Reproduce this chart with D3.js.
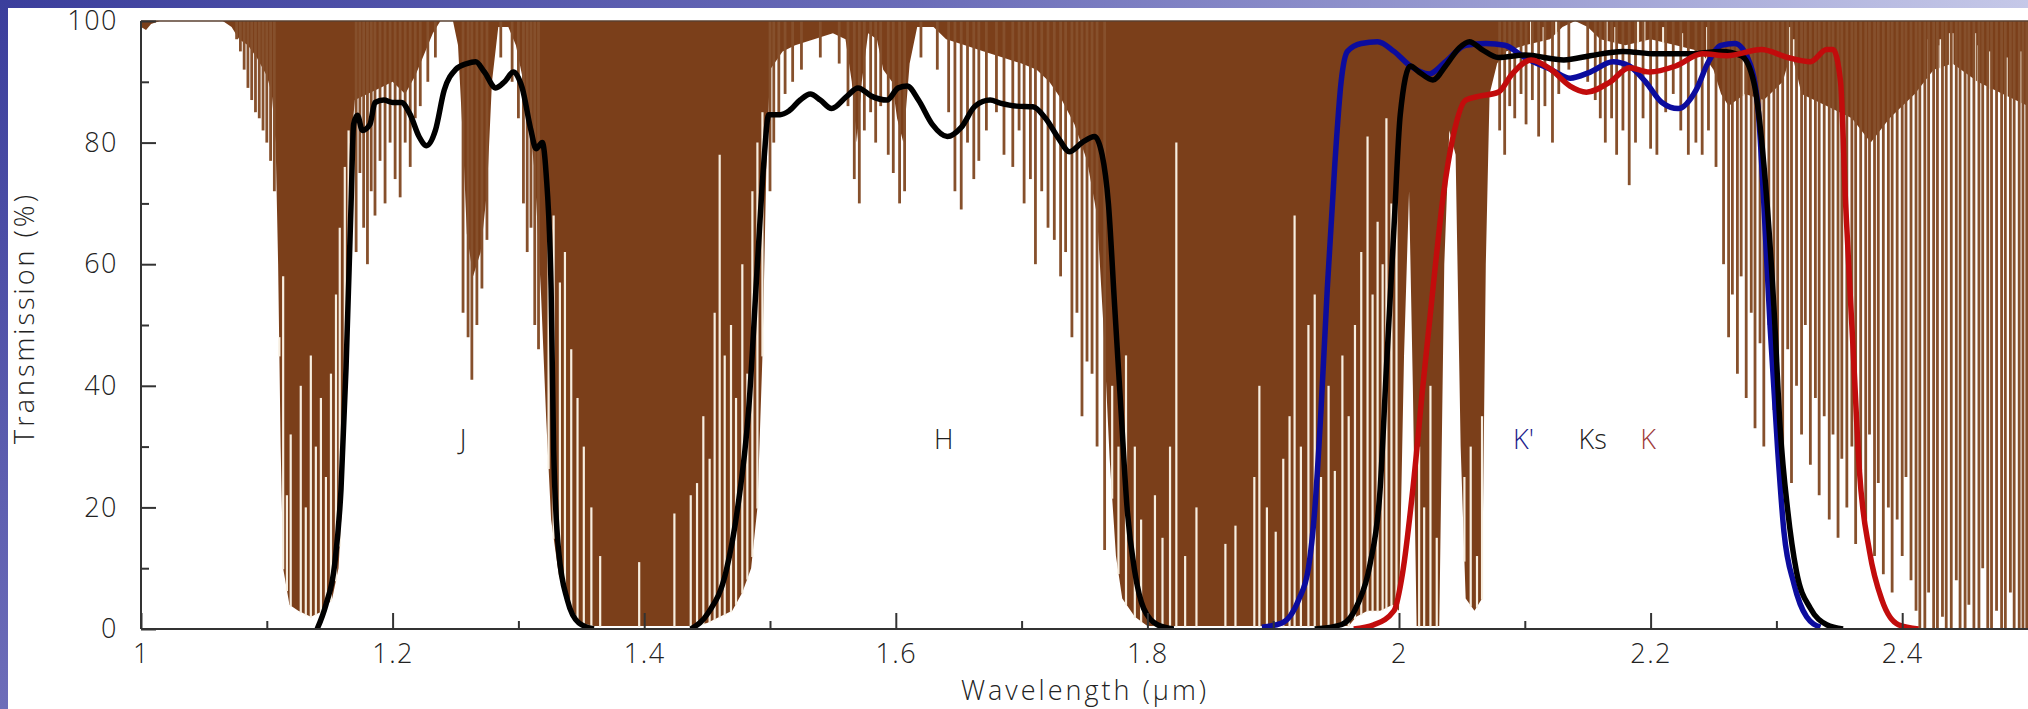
<!DOCTYPE html>
<meta charset="utf-8">
<style>
    body { margin: 0; background: #fff; }
    text {
        font-family: "Open Sans", "DejaVu Sans", sans-serif;
        font-weight: 300;
        fill: #222;
    }
    .axis path, .axis line { stroke: #333; stroke-width: 2; }
</style>

<svg width="2028" height="709"></svg>

<script src="https://d3js.org/d3.v7.min.js"></script>
<script>

    // atmospheric transmission, lower edge of the absorption (brown) mass [micron, %]
    var atmBase = [[1.000,99],[1.004,98.5],[1.008,99.5],[1.015,100],[1.065,100],[1.072,99],[1.078,97],[1.085,96],
        [1.092,94],[1.100,91],[1.104,88],[1.107,80],[1.109,60],[1.111,30],[1.113,10],[1.118,4],[1.125,3],[1.135,2],
        [1.145,3],[1.152,5],[1.157,10],[1.161,25],[1.164,55],[1.167,80],[1.170,87],[1.180,88],[1.190,89],[1.200,90],
        [1.210,88],[1.218,91],[1.226,95],[1.232,98],[1.238,100],[1.248,100],[1.252,96],[1.256,80],[1.259,65],[1.264,58],
        [1.270,62],[1.275,72],[1.279,90],[1.284,99],[1.292,99],[1.298,96],[1.303,91],[1.308,85],[1.313,75],[1.318,55],
        [1.322,35],[1.326,18],[1.332,9],[1.340,4],[1.350,1],[1.360,0.5],[1.440,0.5],[1.450,1],[1.460,2],[1.470,3],
        [1.478,6],[1.485,10],[1.490,20],[1.494,45],[1.497,75],[1.500,92],[1.510,95],[1.520,96],[1.535,97],[1.550,98],
        [1.560,97],[1.565,90],[1.569,80],[1.573,90],[1.578,98],[1.585,97],[1.590,92],[1.597,90],[1.601,84],[1.606,80],
        [1.611,93],[1.617,99],[1.630,99],[1.640,97],[1.655,96],[1.670,95],[1.685,94],[1.700,93],[1.712,92],[1.722,90],
        [1.732,87],[1.742,83],[1.752,77],[1.760,68],[1.765,50],[1.770,28],[1.775,12],[1.780,5],[1.790,2],[1.800,0.5],
        [1.960,0.5],[1.966,2],[1.975,3],[1.985,3],[1.995,4],[2.000,3],[2.004,45],[2.008,72],[2.011,40],[2.014,0.5],
        [2.032,0.5],[2.036,60],[2.040,82],[2.045,78],[2.049,30],[2.053,5],[2.060,3],[2.066,5],[2.069,60],[2.072,88],
        [2.078,93],[2.085,95],[2.100,96],[2.120,97],[2.130,99],[2.140,100],[2.150,99],[2.160,97],[2.180,96],[2.200,97],
        [2.220,96],[2.240,95],[2.250,92],[2.256,88],[2.262,86],[2.275,88],[2.290,87],[2.305,90],[2.312,95],[2.320,88],
        [2.340,86],[2.360,84],[2.375,80],[2.390,84],[2.410,88],[2.425,92],[2.440,93],[2.460,90],[2.480,88],[2.500,86]];

    // narrow absorption lines hanging from the top [micron, lowest %]
    var atmDips = [[1.076,97],[1.079,95],[1.082,92],[1.085,89],[1.088,87],[1.091,85],[1.094,84],[1.097,82],[1.100,80],
        [1.103,77],[1.106,72],
        [1.171,62],[1.174,75],[1.177,66],[1.180,60],[1.183,72],[1.186,68],[1.190,77],[1.194,70],[1.198,80],[1.202,74],
        [1.206,71],[1.210,80],[1.214,76],[1.218,84],[1.222,86],[1.228,90],[1.234,94],[1.256,52],[1.260,48],[1.263,41],
        [1.267,50],[1.271,56],[1.275,64],[1.286,94],[1.295,90],[1.300,84],[1.304,70],[1.307,62],[1.310,66],[1.313,50],
        [1.316,46],
        [1.500,72],[1.503,80],[1.507,85],[1.512,88],[1.518,90],[1.525,92],[1.540,94],[1.555,93],[1.562,86],[1.567,74],
        [1.571,70],[1.575,82],[1.580,85],[1.584,80],[1.588,86],[1.594,78],[1.598,75],[1.603,70],[1.607,72],[1.620,94],
        [1.633,92],[1.642,85],[1.647,72],[1.652,69],[1.657,80],[1.662,74],[1.666,77],[1.672,82],[1.680,85],[1.686,78],
        [1.693,76],[1.698,82],[1.702,70],[1.707,74],[1.711,60],[1.716,72],[1.721,66],[1.726,64],[1.731,58],[1.735,62],
        [1.740,48],[1.744,52],[1.748,35],[1.752,44],[1.756,42],[1.760,30],[1.766,13],
        [2.080,82],[2.084,78],[2.088,86],[2.092,84],[2.097,88],[2.101,83],[2.106,87],[2.111,81],[2.116,86],[2.122,80],
        [2.127,88],[2.135,92],[2.150,90],[2.156,87],[2.160,84],[2.164,80],[2.169,84],[2.173,78],[2.178,82],[2.183,73],
        [2.188,80],[2.194,84],[2.200,79],[2.205,78],[2.212,85],[2.218,88],[2.224,82],[2.230,78],[2.236,80],[2.241,78],
        [2.246,82],[2.252,76],
        [2.258,60],[2.262,48],[2.265,55],[2.269,42],[2.272,58],[2.276,38],[2.280,52],[2.283,33],[2.287,47],[2.290,30],
        [2.294,50],[2.298,36],[2.301,44],[2.305,28],[2.309,46],[2.312,24],[2.316,40],[2.320,32],[2.323,50],[2.327,27],
        [2.331,38],[2.334,22],[2.338,35],[2.342,18],[2.345,32],[2.349,15],[2.352,28],[2.356,20],[2.360,30],[2.363,14],
        [2.367,26],[2.371,18],[2.374,32],[2.378,12],[2.381,24],[2.385,9],[2.389,20],[2.392,6],[2.396,18],[2.400,12],
        [2.403,25],[2.407,8],[2.411,3],[2.414,0],[2.418,0],[2.421,6],[2.425,0],[2.428,0],[2.432,2],[2.435,0],
        [2.439,0],[2.443,8],[2.446,0],[2.450,0],[2.453,4],[2.457,0],[2.461,0],[2.464,10],[2.468,0],[2.471,0],
        [2.475,3],[2.479,0],[2.482,0],[2.486,6],[2.489,0],[2.493,0],[2.496,0],[2.499,0]];

    // narrow transparent gaps rising inside the absorption bands [micron, highest %]
    var atmPeaks = [[1.110,48],[1.113,58],[1.116,22],[1.119,32],[1.127,40],[1.131,20],[1.135,45],[1.139,30],
        [1.143,38],[1.147,25],[1.151,42],[1.155,55],[1.158,66],[1.162,76],[1.165,82],
        [1.324,72],[1.328,68],[1.333,57],[1.337,62],[1.342,46],[1.347,38],[1.352,30],[1.358,20],[1.365,12],
        [1.396,11],[1.424,19],[1.437,22],[1.442,24],[1.447,35],[1.452,28],
        [1.456,52],[1.460,78],[1.464,45],[1.469,50],[1.473,38],[1.478,60],[1.482,42],[1.486,72],[1.490,80],[1.494,85],
        [1.772,40],[1.777,30],[1.783,45],[1.790,30],[1.795,18],[1.806,22],[1.812,15],[1.818,30],[1.823,80],
        [1.830,12],[1.839,20],[1.862,14],[1.870,17],[1.885,25],[1.889,40],[1.895,20],
        [1.902,16],[1.908,28],[1.913,35],[1.917,68],[1.922,30],[1.928,50],[1.933,55],[1.938,25],[1.944,40],[1.949,26],
        [1.955,45],[1.960,35],[1.965,50],[1.970,62],[1.975,81],[1.979,55],[1.983,67],[1.987,60],[1.990,84],[1.994,70],
        [1.998,76],[2.016,30],[2.020,20],[2.025,40],[2.030,15],[2.052,25],[2.057,30],[2.062,12],[2.066,35],
        [2.105,100],[2.115,99],[2.125,100],[2.165,100],[2.172,99],[2.190,100],[2.195,100],[2.210,99],[2.225,98],[2.245,99],
        [2.2737,95],[2.3108,99],[2.3135,97],[2.4208,97],[2.4287,96],[2.4306,97],[2.438,98],[2.4399,98],[2.4579,98],
        [2.4605,96],[2.4698,95],[2.483,94],[2.494,95]];

    // filter transmission curves [micron, %]
    var filterJ = [[1.140,0],[1.147,4],[1.154,10.7],[1.159,23],[1.163,43],[1.167,70],[1.169,83],[1.172,84.5],[1.176,82],
        [1.182,83],[1.186,86.6],[1.193,87],[1.200,86.6],[1.207,86.6],[1.214,84.6],[1.221,81],[1.227,79.5],[1.234,82],
        [1.241,88.6],[1.250,92],[1.259,93],[1.266,93.3],[1.273,91.6],[1.282,89],[1.289,90],[1.296,91.6],[1.303,89],
        [1.310,82],[1.314,79],[1.319,80],[1.322,75],[1.326,56],[1.328,29.5],[1.332,12.8],[1.339,4.7],[1.348,1],[1.360,0]];
    var filterH = [[1.437,0],[1.451,2.7],[1.465,9.4],[1.474,19.5],[1.483,36],[1.490,60],[1.495,76.5],[1.499,84.6],
        [1.508,84.6],[1.515,85.2],[1.524,87],[1.532,88],[1.540,87],[1.549,85.6],[1.561,87.6],[1.570,89],[1.581,87.6],
        [1.593,87],[1.602,89],[1.609,89.3],[1.618,87],[1.629,83],[1.641,81],[1.652,82.5],[1.663,86],[1.675,87],
        [1.683,86.5],[1.696,86],[1.709,85.9],[1.719,84],[1.730,80.5],[1.738,78.5],[1.748,80],[1.758,81],[1.764,78],
        [1.769,70],[1.774,53],[1.779,36],[1.784,19.5],[1.790,9.4],[1.797,3.4],[1.808,0.7],[1.821,0]];
    var filterKp = [[1.891,0.3],[1.907,1],[1.920,4.7],[1.928,10],[1.933,19.5],[1.938,36],[1.943,56],[1.949,76.5],
        [1.954,90],[1.959,95],[1.970,96.3],[1.983,96.6],[1.996,95],[2.009,92.6],[2.024,91.3],[2.037,93.3],[2.053,96],
        [2.069,96.3],[2.084,96],[2.100,94],[2.121,92],[2.136,90.6],[2.152,91.6],[2.170,93.3],[2.183,92.6],[2.196,90],
        [2.209,86.6],[2.222,85.6],[2.236,88.6],[2.246,93.3],[2.256,96],[2.267,96.3],[2.277,94],[2.285,86.6],[2.290,70],
        [2.295,49.7],[2.301,29.5],[2.306,16],[2.314,7.4],[2.324,2],[2.335,0.3]];
    var filterKs = [[1.933,0],[1.954,0.7],[1.967,4],[1.977,10.7],[1.985,23],[1.990,43],[1.996,66],[2.001,84.6],
        [2.009,92.6],[2.016,91.6],[2.027,90.3],[2.037,92.6],[2.048,95.6],[2.056,96.6],[2.066,95.3],[2.079,94],
        [2.100,94.4],[2.131,93.6],[2.152,94.3],[2.178,95],[2.204,94.6],[2.230,94.6],[2.256,95],[2.272,94.3],[2.282,90],
        [2.290,76.5],[2.298,53],[2.303,33],[2.309,19.5],[2.316,9.4],[2.327,3.4],[2.340,0.7],[2.353,0]];
    var filterK = [[1.964,0],[1.980,0.7],[1.996,3],[2.003,9.4],[2.011,23],[2.019,40],[2.027,56],[2.035,71],[2.043,81],
        [2.053,87],[2.063,87.6],[2.079,88.3],[2.090,91.3],[2.105,93.6],[2.121,92],[2.136,89.3],[2.149,88.3],[2.168,90],
        [2.183,92.3],[2.199,91.6],[2.220,92.6],[2.241,94.6],[2.261,94.3],[2.288,95.3],[2.309,94],[2.327,93.3],
        [2.340,95.3],[2.345,95.3],[2.351,90],[2.355,70],[2.361,46],[2.366,26],[2.374,12.8],[2.384,4.7],[2.397,0.7],[2.413,0]];

    var xMajor = [1, 1.2, 1.4, 1.6, 1.8, 2, 2.2, 2.4];
    var xMinor = [1.1, 1.3, 1.5, 1.7, 1.9, 2.1, 2.3];
    var yMajor = [0, 20, 40, 60, 80, 100];
    var yMinor = [10, 30, 50, 70, 90];

    var bandLabels = [
        {text: "J", w: 1.256, color: "#222"},
        {text: "H", w: 1.638, color: "#222"},
        {text: "K'", w: 2.099, color: "#1c1c8c"},
        {text: "Ks", w: 2.154, color: "#222"},
        {text: "K", w: 2.198, color: "#a03c3c"}
    ];

    var svg = d3.select("svg"),
        width = +svg.attr("width"),
        height = +svg.attr("height");

    var brown = "#7b3f1a";

    var x = d3.scaleLinear().domain([1, 2.5]).range([141, 2028]);
    var y = d3.scaleLinear().domain([0, 100]).range([629, 21]);

    // base transmission at any wavelength, to start the bright gaps at the brown edge
    var bisect = d3.bisector(function (d) { return d[0]; }).left;
    function baseAt(w) {
        var i = bisect(atmBase, w);
        if (i <= 0) return atmBase[0][1];
        if (i >= atmBase.length) return atmBase[atmBase.length - 1][1];
        var a = atmBase[i - 1], b = atmBase[i];
        return a[1] + (b[1] - a[1]) * (w - a[0]) / (b[0] - a[0]);
    }

    /* slide frame: gradient strips on the top and left edges */
    var defs = svg.append("defs");
    var gTop = defs.append("linearGradient").attr("id", "gTop");
    gTop.append("stop").attr("offset", "0%").attr("stop-color", "#3b3e9c");
    gTop.append("stop").attr("offset", "45%").attr("stop-color", "#6a6cb8");
    gTop.append("stop").attr("offset", "100%").attr("stop-color", "#c5c8e8");
    var gLeft = defs.append("linearGradient").attr("id", "gLeft")
            .attr("x1", 0).attr("y1", 0).attr("x2", 0).attr("y2", 1);
    gLeft.append("stop").attr("offset", "0%").attr("stop-color", "#3b3e9c");
    gLeft.append("stop").attr("offset", "100%").attr("stop-color", "#6d6db9");

    defs.append("clipPath").attr("id", "plot")
            .append("rect").attr("x", x(1)).attr("y", y(100))
            .attr("width", x(2.5) - x(1)).attr("height", y(0) - y(100));

    svg.append("rect").attr("width", width).attr("height", height).attr("fill", "#fff");
    svg.append("rect").attr("width", width).attr("height", 8).attr("fill", "url(#gTop)");
    svg.append("rect").attr("width", 8).attr("height", height).attr("fill", "url(#gLeft)");

    var plot = svg.append("g").attr("clip-path", "url(#plot)");

    // absorption mass: brown from the top of the frame down to the transmission
    plot.append("path")
            .datum(atmBase)
            .attr("fill", brown)
            .attr("d", d3.area()
                    .x(function (d) { return x(d[0]); })
                    .y0(y(100))
                    .y1(function (d) { return y(d[1]); }));

    plot.append("g").selectAll("line")
            .data(atmPeaks.filter(function (d) { return d[1] > baseAt(d[0]); }))
            .enter().append("line")
            .attr("x1", function (d) { return x(d[0]); })
            .attr("x2", function (d) { return x(d[0]); })
            .attr("y1", function (d) { return y(baseAt(d[0])) + 1; })
            .attr("y2", function (d) { return y(d[1]); })
            .attr("stroke", "#f7eee0")
            .attr("stroke-width", 2.2);

    plot.append("g").selectAll("line")
            .data(atmDips)
            .enter().append("line")
            .attr("x1", function (d) { return x(d[0]); })
            .attr("x2", function (d) { return x(d[0]); })
            .attr("y1", y(100))
            .attr("y2", function (d) { return y(d[1]); })
            .attr("stroke", "#86502c")
            .attr("stroke-width", 2.8);

    var line = d3.line()
            .x(function (d) { return x(d[0]); })
            .y(function (d) { return y(d[1]); })
            .curve(d3.curveMonotoneX);

    var filters = [
        {data: filterJ, color: "#000"},
        {data: filterH, color: "#000"},
        {data: filterKp, color: "#0c0c9e"},
        {data: filterKs, color: "#000"},
        {data: filterK, color: "#c20c0c"}
    ];

    plot.append("g").selectAll("path")
            .data(filters)
            .enter().append("path")
            .attr("fill", "none")
            .attr("stroke", function (d) { return d.color; })
            .attr("stroke-width", 5.5)
            .attr("stroke-linejoin", "round")
            .attr("d", function (d) { return line(d.data); });

    // top edge of the frame
    svg.append("line")
            .attr("x1", x(1)).attr("x2", x(2.5))
            .attr("y1", y(100)).attr("y2", y(100))
            .attr("stroke", "#5a4030").attr("stroke-width", 1.5);

    /* axes, ticks pointing into the plot */
    var fmt = function (d) { return d3.format("~g")(d); };

    svg.append("g").attr("class", "axis")
            .attr("transform", "translate(0," + y(0) + ")")
            .call(d3.axisBottom(x).tickValues(xMajor).tickSize(-16).tickPadding(15).tickFormat(fmt))
            .call(function (g) { g.select(".domain").attr("d", "M" + x(1) + ",0H" + x(2.5)); })
            .selectAll("text").attr("font-size", 27).attr("font-family", null).attr("fill", null);

    svg.append("g").attr("class", "axis")
            .attr("transform", "translate(0," + y(0) + ")")
            .call(d3.axisBottom(x).tickValues(xMinor).tickSize(-8).tickFormat(""))
            .call(function (g) { g.select(".domain").remove(); });

    svg.append("g").attr("class", "axis")
            .attr("transform", "translate(" + x(1) + ",0)")
            .call(d3.axisLeft(y).tickValues(yMajor).tickSize(-15).tickPadding(23).tickFormat(fmt))
            .call(function (g) { g.select(".domain").attr("d", "M0," + y(0) + "V" + y(100)); })
            .selectAll("text").attr("font-size", 27).attr("font-family", null).attr("fill", null);

    svg.append("g").attr("class", "axis")
            .attr("transform", "translate(" + x(1) + ",0)")
            .call(d3.axisLeft(y).tickValues(yMinor).tickSize(-8).tickFormat(""))
            .call(function (g) { g.select(".domain").remove(); });

    svg.selectAll(".axis text").style("letter-spacing", "1.5px");

    /* filter names */
    svg.append("g").selectAll("text")
            .data(bandLabels)
            .enter().append("text")
            .attr("x", function (d) { return x(d.w); })
            .attr("y", 449)
            .attr("text-anchor", "middle")
            .attr("font-size", 27)
            .style("fill", function (d) { return d.color; })
            .text(function (d) { return d.text; });

    /* axis titles */
    svg.append("text")
            .attr("x", 1085).attr("y", 700)
            .attr("text-anchor", "middle")
            .attr("font-size", 27)
            .style("letter-spacing", "3px")
            .text("Wavelength (\u03bcm)");

    svg.append("text")
            .attr("transform", "translate(34,318) rotate(-90)")
            .attr("text-anchor", "middle")
            .attr("font-size", 27)
            .style("letter-spacing", "3px")
            .text("Transmission (%)");

</script>
